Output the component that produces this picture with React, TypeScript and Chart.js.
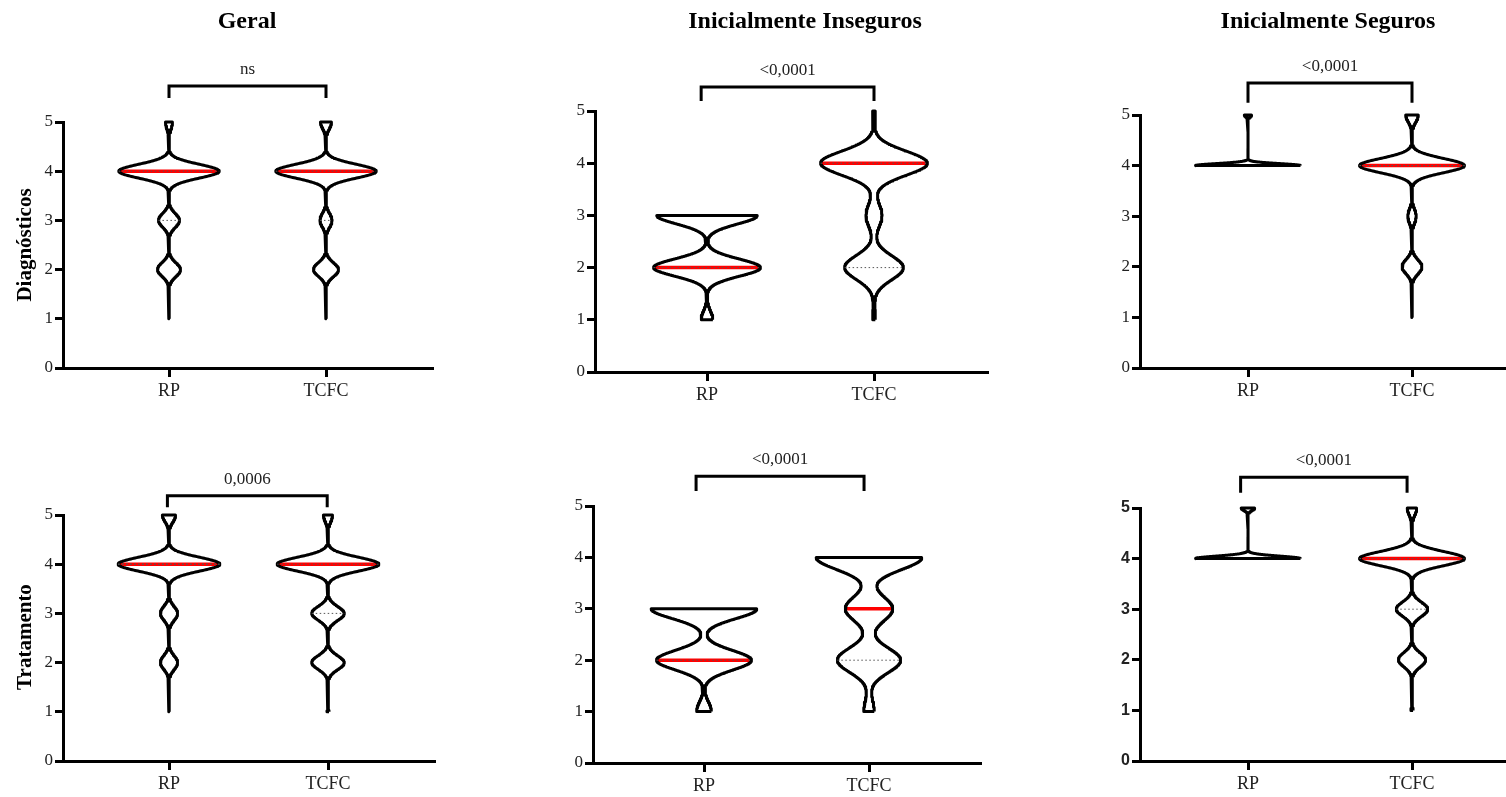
import React, { useEffect, useRef } from "react";
import { Chart, registerables } from "chart.js";

Chart.register(...registerables);

// ---------------- DATA ----------------
const categories = ["RP", "TCFC"];
const scoreLevels = [1, 2, 3, 4, 5];
const columnTitles = ["Geral", "Inicialmente Inseguros", "Inicialmente Seguros"];
const rowTitles = ["Diagnósticos", "Tratamento"];
const pValues = ["ns", "<0,0001", "<0,0001", "0,0006", "<0,0001", "<0,0001"];

// relative frequency of each score (1..5)
const geralDiagRP = [1, 23, 21, 100, 7];
const geralDiagTCFC = [1, 25, 12, 100, 11];
const insegDiagRP = [11, 100, 94, 0, 0];
const insegDiagTCFC = [2.5, 55, 15, 100, 2.5];
const segDiagRP = [0, 0, 0, 100, 7];
const segDiagTCFC = [1, 19, 8, 100, 12];
const geralTratRP = [1, 17, 17, 100, 13];
const geralTratTCFC = [2, 32, 32, 100, 9];
const insegTratRP = [14, 90, 100, 0, 0];
const insegTratTCFC = [10, 60, 45, 100, 0];
const segTratRP = [0, 0, 0, 100, 13];
const segTratTCFC = [2, 26, 30, 100, 9];

// [Q1, median, Q3] for RP and TCFC
const geralDiagQuartiles = [[3, 4, 4], [3, 4, 4]];
const insegDiagQuartiles = [[2, 2, 3], [2, 4, 4]];
const segDiagQuartiles = [[4, 4, 4], [4, 4, 4]];
const geralTratQuartiles = [[4, 4, 4], [3, 4, 4]];
const insegTratQuartiles = [[2, 2, 3], [2, 3, 4]];
const segTratQuartiles = [[4, 4, 4], [3, 4, 4]];

// kernel bandwidths of each violin (RP, TCFC)
const bandwidths = [
  [0.14, 0.14],
  [0.165, 0.23],
  [0.04, 0.14],
  [0.14, 0.14],
  [0.19, 0.24],
  [0.05, 0.14],
];

const panelSeries = [
  [geralDiagRP, geralDiagTCFC],
  [insegDiagRP, insegDiagTCFC],
  [segDiagRP, segDiagTCFC],
  [geralTratRP, geralTratTCFC],
  [insegTratRP, insegTratTCFC],
  [segTratRP, segTratTCFC],
];
const panelQuartiles = [
  geralDiagQuartiles,
  insegDiagQuartiles,
  segDiagQuartiles,
  geralTratQuartiles,
  insegTratQuartiles,
  segTratQuartiles,
];

// ---------------- LAYOUT ----------------
type Layout = {
  axisLeft: number;
  axisRight: number;
  xRP: number;
  xTCFC: number;
  y5: number;
  y0: number;
  bracketX: [number, number];
  bracketY: [number, number];
  boldSansTicks?: boolean;
};

const layouts: Layout[] = [
  { axisLeft: 63, axisRight: 432, xRP: 169, xTCFC: 326, y5: 122, y0: 368, bracketX: [1, 2], bracketY: [5.49, 5.73] },
  { axisLeft: 595, axisRight: 987, xRP: 707, xTCFC: 874, y5: 111, y0: 372, bracketX: [0.965, 2], bracketY: [5.19, 5.46] },
  { axisLeft: 1140, axisRight: 1520, xRP: 1248, xTCFC: 1412, y5: 115, y0: 368, bracketX: [1, 2], bracketY: [5.24, 5.63] },
  { axisLeft: 63, axisRight: 434, xRP: 169, xTCFC: 328, y5: 515, y0: 761, bracketX: [0.99, 1.995], bracketY: [5.16, 5.39] },
  { axisLeft: 593, axisRight: 980, xRP: 704, xTCFC: 869, y5: 506, y0: 763, bracketX: [0.952, 1.97], bracketY: [5.29, 5.58] },
  { axisLeft: 1140, axisRight: 1520, xRP: 1248, xTCFC: 1412, y5: 508, y0: 761, bracketX: [0.955, 1.97], bracketY: [5.3, 5.61], boldSansTicks: true },
];
const titleCenters = [247, 805, 1328];
const rowCenters = [245, 637];

const PAGE_W = 1506;
const Y_AXIS_W = 55;
const X_AXIS_H = 40;
const TOP_SPACE = 100;
const VIOLIN_HALF = 0.32; // x-units
const SERIF = '"Liberation Serif", "Times New Roman", serif';
const SANS = '"Liberation Sans", Arial, sans-serif';
const TEXT_COLOR = "#222";

function geometry(L: Layout) {
  const left = L.axisLeft - Y_AXIS_W;
  const areaRight = Math.min(L.axisRight, PAGE_W);
  const right = Math.min(L.axisRight + 6, PAGE_W);
  const top = L.y5 - TOP_SPACE;
  const width = right - left;
  const height = L.y0 - top + X_AXIS_H;
  const unit = L.xTCFC - L.xRP;
  const xMin = 1 - (L.xRP - L.axisLeft) / unit;
  const xMax = 2 + (areaRight - L.xTCFC) / unit;
  return { left, top, width, height, xMin, xMax, padRight: right - areaRight };
}

function buildViolin(freq: number[], h: number, center: number) {
  const present = freq.map((f, i) => (f > 0 ? i : -1)).filter((i) => i >= 0);
  const lo = scoreLevels[present[0]];
  const hi = scoreLevels[present[present.length - 1]];
  const dens = (y: number) =>
    freq.reduce((s, f, i) => {
      const d = (y - scoreLevels[i]) / h;
      return s + f * Math.exp(-0.5 * d * d);
    }, 0);
  const N = 600;
  const ys: number[] = [];
  for (let k = 0; k <= N; k++) ys.push(lo + ((hi - lo) * k) / N);
  const ds = ys.map(dens);
  const maxD = Math.max(...ds);
  const half = (y: number) => (VIOLIN_HALF * dens(y)) / maxD;
  const rightSide = ys.map((y, k) => ({ x: center + (VIOLIN_HALF * ds[k]) / maxD, y }));
  const leftSide = ys
    .map((y, k) => ({ x: center - (VIOLIN_HALF * ds[k]) / maxD, y }))
    .reverse();
  const outline = [...rightSide, ...leftSide, rightSide[0]];
  return { outline, half, lo, hi };
}

function Panel({ index }: { index: number }) {
  const ref = useRef<HTMLCanvasElement>(null);
  const L = layouts[index];
  const g = geometry(L);

  useEffect(() => {
    const canvas = ref.current;
    if (!canvas) return;
    const series = panelSeries[index];
    const quart = panelQuartiles[index];
    const bw = bandwidths[index];
    const datasets: any[] = [];
    const base = {
      showLine: true,
      pointRadius: 0,
      pointHoverRadius: 0,
      tension: 0,
      fill: false,
      clip: false,
    };

    series.forEach((freq, ci) => {
      const center = ci + 1;
      const v = buildViolin(freq, bw[ci], center);
      datasets.push({
        ...base,
        label: categories[ci],
        data: v.outline,
        borderColor: "#000",
        borderWidth: 3,
        borderJoinStyle: "round",
        order: 1,
      });
      quart[ci].forEach((q, qi) => {
        if (q <= v.lo || q >= v.hi) return;
        const w = v.half(q);
        const seg = [
          { x: center - w, y: q },
          { x: center + w, y: q },
        ];
        if (qi === 1) {
          datasets.push({ ...base, data: seg, borderColor: "#ff0000", borderWidth: 3.5, order: 2 });
        } else {
          datasets.push({ ...base, data: seg, borderColor: "#555", borderWidth: 1, borderDash: [1.5, 2.5], order: 0 });
        }
      });
    });

    const [bx1, bx2] = L.bracketX;
    const [bBot, bTop] = L.bracketY;
    datasets.push({
      ...base,
      data: [
        { x: bx1, y: bBot },
        { x: bx1, y: bTop },
        { x: bx2, y: bTop },
        { x: bx2, y: bBot },
      ],
      borderColor: "#000",
      borderWidth: 3,
      borderJoinStyle: "miter",
      borderCapStyle: "butt",
      order: 0,
    });

    const tickFont = L.boldSansTicks
      ? { family: SANS, size: 16, weight: "bold" as const }
      : { family: SERIF, size: 17, weight: "normal" as const };

    const pPlugin = {
      id: "pvalue" + index,
      afterDatasetsDraw(chart: any) {
        const ctx = chart.ctx;
        const xs = chart.scales.x;
        const ysc = chart.scales.y;
        const cx = (xs.getPixelForValue(bx1) + xs.getPixelForValue(bx2)) / 2;
        const cy = ysc.getPixelForValue(bTop) - 12;
        ctx.save();
        ctx.font = `17px ${SERIF}`;
        ctx.fillStyle = TEXT_COLOR;
        ctx.textAlign = "center";
        ctx.textBaseline = "alphabetic";
        ctx.fillText(pValues[index], cx, cy);
        ctx.restore();
      },
    };

    const chart = new Chart(canvas, {
      type: "scatter",
      data: { datasets },
      options: {
        responsive: false,
        animation: false,
        devicePixelRatio: 1,
        events: [],
        layout: { padding: { left: 0, top: TOP_SPACE, right: g.padRight, bottom: 0 } },
        plugins: {
          legend: { display: false },
          tooltip: { enabled: false },
          title: { display: false },
        },
        scales: {
          x: {
            type: "linear",
            min: g.xMin,
            max: g.xMax,
            afterBuildTicks: (s: any) => {
              s.ticks = categories.map((_, i) => ({ value: i + 1 }));
            },
            afterFit: (s: any) => {
              s.height = X_AXIS_H;
            },
            ticks: {
              autoSkip: false,
              maxRotation: 0,
              padding: 3,
              color: TEXT_COLOR,
              font: { family: SERIF, size: 18 },
              callback: (v: any) => categories[Math.round(Number(v)) - 1] ?? "",
            },
            grid: { drawOnChartArea: false, color: "#000", lineWidth: 3, tickLength: 9 },
            border: { display: true, color: "#000", width: 3 },
          },
          y: {
            type: "linear",
            min: 0,
            max: 5,
            afterFit: (s: any) => {
              s.width = Y_AXIS_W;
            },
            ticks: { stepSize: 1, padding: 2, color: TEXT_COLOR, font: tickFont },
            grid: { drawOnChartArea: false, color: "#000", lineWidth: 3, tickLength: 8 },
            border: { display: true, color: "#000", width: 3 },
          },
        },
      } as any,
      plugins: [pPlugin],
    });
    return () => chart.destroy();
  }, [index]);

  return (
    <canvas
      ref={ref}
      width={g.width}
      height={g.height}
      style={{ position: "absolute", left: g.left, top: g.top, width: g.width, height: g.height }}
    />
  );
}

export default function App() {
  return (
    <div
      style={{
        position: "absolute",
        left: 0,
        top: 0,
        width: PAGE_W,
        height: 797,
        background: "#fff",
        overflow: "hidden",
      }}
    >
      {layouts.map((_, i) => (
        <Panel key={i} index={i} />
      ))}
      {columnTitles.map((t, i) => (
        <div
          key={t}
          style={{
            position: "absolute",
            left: titleCenters[i],
            top: 8,
            transform: "translateX(-50%)",
            font: `bold 24px/24px ${SERIF}`,
            whiteSpace: "nowrap",
            color: "#000",
          }}
        >
          {t}
        </div>
      ))}
      {rowTitles.map((t, i) => (
        <div
          key={t}
          style={{
            position: "absolute",
            left: 24,
            top: rowCenters[i],
            transform: "translate(-50%, -50%) rotate(-90deg)",
            font: `bold 21px/21px ${SERIF}`,
            whiteSpace: "nowrap",
            color: "#000",
          }}
        >
          {t}
        </div>
      ))}
    </div>
  );
}
